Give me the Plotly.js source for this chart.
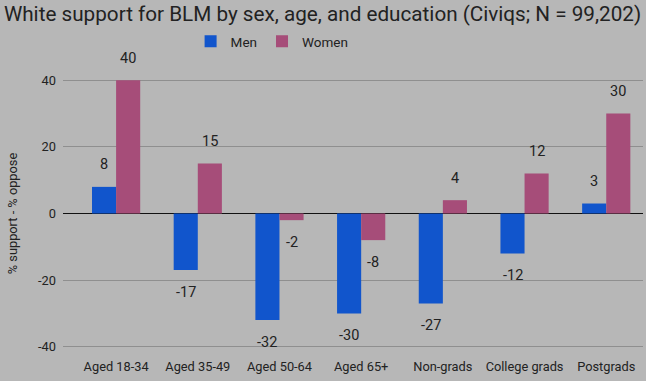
<!DOCTYPE html>
<html><head><meta charset="utf-8">
<script src="https://cdn.plot.ly/plotly-3.0.1.min.js"></script>
<style>html,body{margin:0;padding:0;background:#b7b7b7}</style>
</head><body>
<div id="chart" style="width:646px;height:381px"></div>
<script>
const categories = ["Aged 18-34","Aged 35-49","Aged 50-64","Aged 65+","Non-grads","College grads","Postgrads"];
const men = [8,-17,-32,-30,-27,-12,3];
const women = [40,15,-2,-8,4,12,30];
const yTicks = [-40,-20,0,20,40];

const font = "Roboto, Arial, sans-serif";
const idx = categories.map((c,i)=>i);
const traces = [
  {type:'bar', name:'Men', x:idx, y:men, marker:{color:'#1155cc'}, hoverinfo:'none'},
  {type:'bar', name:'Women', x:idx, y:women, marker:{color:'#a64d79'}, hoverinfo:'none'}
];
const off = 0.1475;
const annotations = [];
[[men,-off],[women,off]].forEach(([arr,dx])=>{
  arr.forEach((v,i)=>{
    annotations.push({x:i+dx, y:v, xref:'x', yref:'y', text:String(v), showarrow:false,
      yshift: v>=0 ? 22 : -22, font:{family:font,size:14.5,color:'#222'}});
  });
});
const layout = {
  width:646, height:381,
  paper_bgcolor:'#b7b7b7', plot_bgcolor:'#b7b7b7',
  margin:{l:63,r:3,t:77,b:31},
  barmode:'group', bargap:0.41, bargroupgap:0,
  title:{text:'White support for BLM by sex, age, and education (Civiqs; N = 99,202)',
    x:0.006, xanchor:'left', y:0.963, yanchor:'middle', yref:'container',
    font:{family:font,size:20.7,color:'#222'}},
  legend:{orientation:'h', x:0.22, xanchor:'left', y:1.13, yanchor:'middle',
    itemwidth:30,
    font:{family:font,size:13.5,color:'#222'}, itemclick:false},
  xaxis:{tickmode:'array', tickvals:idx, ticktext:categories, range:[-0.65,6.45],
    showgrid:false, zeroline:false, showline:false, ticks:'', ticklabelstandoff:7,
    tickfont:{family:font,size:12.8,color:'#222'}},
  yaxis:{range:[-41,41], tickmode:'array', tickvals:yTicks, ticktext:yTicks.map(String),
    showgrid:true, gridcolor:'#8f8f8f', gridwidth:1, zeroline:true, zerolinecolor:'#111', zerolinewidth:1.2,
    tickfont:{family:font,size:12.8,color:'#222'}, ticks:'', ticklabelstandoff:6,
    title:{text:'% support - % oppose', font:{family:font,size:12.8,color:'#222'}, standoff:17}},
  annotations: annotations,
  showlegend:true
};
Plotly.newPlot('chart', traces, layout, {displayModeBar:false, staticPlot:true});
</script>
</body></html>
